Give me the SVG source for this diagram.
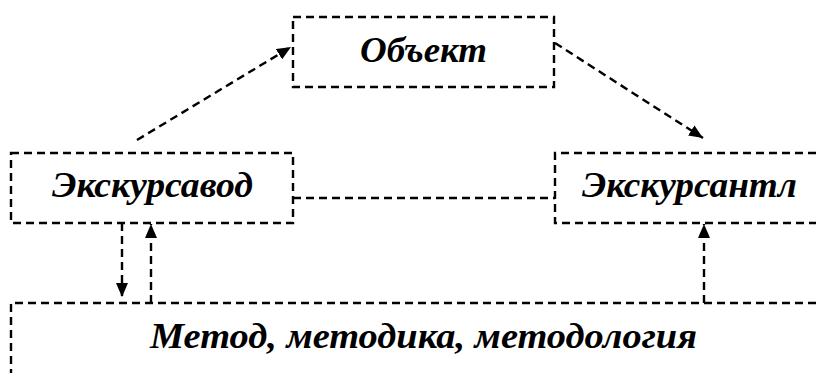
<svg xmlns="http://www.w3.org/2000/svg" width="816" height="373" viewBox="0 0 816 373">
<defs>
<style>
.box{fill:none;stroke:#000;stroke-width:2.4;stroke-dasharray:8 5;}
.ln{fill:none;stroke:#000;stroke-width:2.4;stroke-dasharray:8 5;}
.t{font-family:"Liberation Serif","Times New Roman",serif;font-weight:bold;font-style:italic;font-size:36px;fill:#000;text-anchor:middle;}
</style>
<marker id="ah" viewBox="0 0 14 12" refX="14" refY="6" markerWidth="14" markerHeight="12" markerUnits="userSpaceOnUse" orient="auto">
<path d="M0,0 L14,6 L0,12 Z" fill="#000"/>
</marker>
</defs>
<rect width="816" height="373" fill="#fff"/>
<g id="obekt">
<rect class="box" x="293" y="17" width="261" height="70"/>
<text class="t" x="423.5" y="62" textLength="127" lengthAdjust="spacingAndGlyphs">Объект</text>
</g>
<g id="ekskursovod">
<rect class="box" x="11" y="153" width="282" height="70"/>
<text class="t" x="152.5" y="197" textLength="201" lengthAdjust="spacingAndGlyphs">Экскурсавод</text>
</g>
<g id="ekskursant">
<path class="box" d="M816,153 H555 V223 H816"/>
<text class="t" x="689.5" y="197" textLength="215" lengthAdjust="spacingAndGlyphs">Экскурсантл</text>
</g>
<g id="metod">
<path class="box" d="M816,303 H11 V373"/>
<text class="t" x="423.5" y="348" textLength="547" lengthAdjust="spacingAndGlyphs">Метод, методика, методология</text>
</g>
<g id="connectors">
<line class="ln" x1="137" y1="140" x2="291" y2="47" marker-end="url(#ah)"/>
<line class="ln" x1="555" y1="43" x2="703" y2="138" marker-end="url(#ah)"/>
<line class="ln" x1="293" y1="198" x2="555" y2="198"/>
<line class="ln" x1="122" y1="223" x2="122" y2="297" marker-end="url(#ah)"/>
<line class="ln" x1="151" y1="303" x2="151" y2="224" marker-end="url(#ah)"/>
<line class="ln" x1="704" y1="303" x2="704" y2="224" marker-end="url(#ah)"/>
</g>
</svg>
